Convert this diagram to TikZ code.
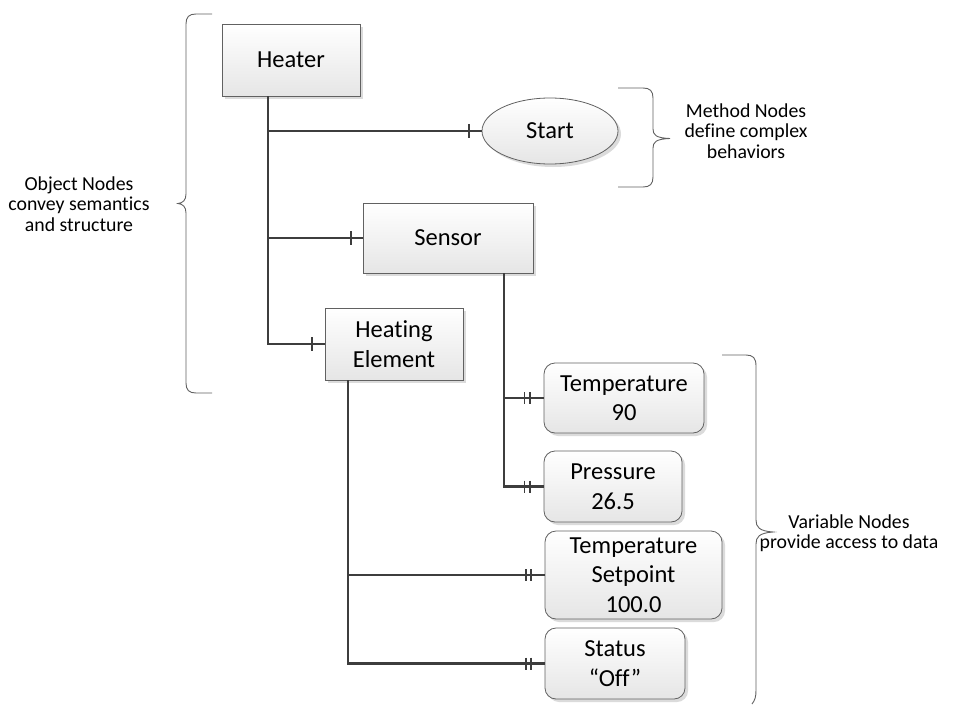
\documentclass[tikz,border=0pt]{standalone}
\usepackage{fontspec}
\setmainfont{Carlito}[Ligatures=NoCommon]
\usetikzlibrary{shapes.geometric,shadows}

\tikzset{
  boxbase/.style={draw=black!62, line width=0.8pt, top color=white, bottom color=black!10,
    drop shadow={shadow xshift=3pt, shadow yshift=-3pt, fill=black!14, opacity=1},
    align=center, inner sep=0pt, font=\fontsize{24.5}{29.5}\selectfont},
  objbox/.style={boxbase, rectangle},
  varbox/.style={boxbase, rectangle, rounded corners=11pt},
  methodnode/.style={boxbase, ellipse},
  conn/.style={draw=black!76, line width=2.3pt},
  barline/.style={draw=black!76, line width=1.8pt},
  brace/.style={draw=black!62, line width=0.9pt},
  note/.style={align=center, inner sep=0pt, font=\fontsize{19.8}{20.5}\selectfont},
  onebar/.pic={\draw[barline] (0,-7) -- (0,7);},
  twobar/.pic={\draw[barline] (-2.6,-6) -- (-2.6,6) (2.6,-6) -- (2.6,6);}
}

\begin{document}
\begin{tikzpicture}[x=1pt, y=-1pt]
\useasboundingbox (0,0) rectangle (963,706);

% object nodes
\node[objbox, minimum width=138pt, minimum height=72pt] (heater) at (291,60) {Heater};
\node[objbox, minimum width=170pt, minimum height=70pt] (sensor) at (448,238) {Sensor};
\node[objbox, minimum width=138pt, minimum height=72pt] (hel) at (394,344) {Heating\\Element};

% method node
\node[methodnode, minimum width=136pt, minimum height=66pt] (start) at (550,131) {Start};

% variable nodes
\node[varbox, minimum width=160pt, minimum height=70pt] (temp) at (624,398) {Temperature\\90};
\node[varbox, minimum width=138pt, minimum height=71pt] (press) at (613,486.5) {Pressure\\26.5};
\node[varbox, minimum width=177pt, minimum height=88pt] (setp) at (633.5,575) {Temperature\\Setpoint\\100.0};
\node[varbox, minimum width=140pt, minimum height=71pt] (status) at (615,663.5) {Status\\“Off”};

% trunk lines leaving the parents
\coordinate (hx) at ([xshift=-23pt]heater.south);
\coordinate (sx) at ([xshift=56pt]sensor.south);
\coordinate (ex) at ([xshift=-46pt]hel.south);

% Heater references
\draw[conn] (hx) -- (hx |- hel.west) -- (hel.west);
\draw[conn] (hx |- start.west) -- (start.west);
\draw[conn] (hx |- sensor.west) -- (sensor.west);
\pic at ([xshift=-13pt]start.west) {onebar};
\pic at ([xshift=-12pt]sensor.west) {onebar};
\pic at ([xshift=-13pt]hel.west) {onebar};

% Sensor variables
\draw[conn] (sx) -- (sx |- press.west) -- (press.west);
\draw[conn] (sx |- temp.west) -- (temp.west);
\pic at ([xshift=-16.5pt]temp.west) {twobar};
\pic at ([xshift=-16.5pt]press.west) {twobar};

% Heating Element variables
\draw[conn] (ex) -- (ex |- status.west) -- (status.west);
\draw[conn] (ex |- setp.west) -- (setp.west);
\pic at ([xshift=-16pt]setp.west) {twobar};
\pic at ([xshift=-16pt]status.west) {twobar};

% brace around the object nodes
\draw[brace] (212,14) -- (196,14) .. controls (189,14) and (186,17) .. (186,24)
  -- (186,194) .. controls (186,200) and (183,203) .. (178,203.5)
  .. controls (183,204) and (186,207) .. (186,213)
  -- (186,383) .. controls (186,390) and (189,393) .. (196,393) -- (212,393);
\node[note] (objnote) at (79,204) {Object Nodes\\convey semantics\\and structure};

% brace around the method node
\draw[brace] (618,88) -- (643,88) .. controls (650,88) and (653,91) .. (653,98)
  -- (653,129) .. controls (653,135) and (656,138) .. (670,138.5)
  .. controls (656,139) and (653,142) .. (653,148)
  -- (653,177) .. controls (653,184) and (650,187) .. (643,187) -- (618,187);
\node[note] (methodnote) at (746,131) {Method Nodes\\define complex\\behaviors};

% brace around the variable nodes
\draw[brace] (722,355) -- (746,355) .. controls (753,355) and (756,358) .. (756,366)
  -- (756,520) .. controls (756,527) and (759,531) .. (773,532)
  .. controls (759,533) and (756,537) .. (756,544)
  -- (756,690) .. controls (756,697) and (755,700) .. (752,704);
\node[note] (varnote) at (849,533) {Variable Nodes\\provide access to data};

\end{tikzpicture}
\end{document}
